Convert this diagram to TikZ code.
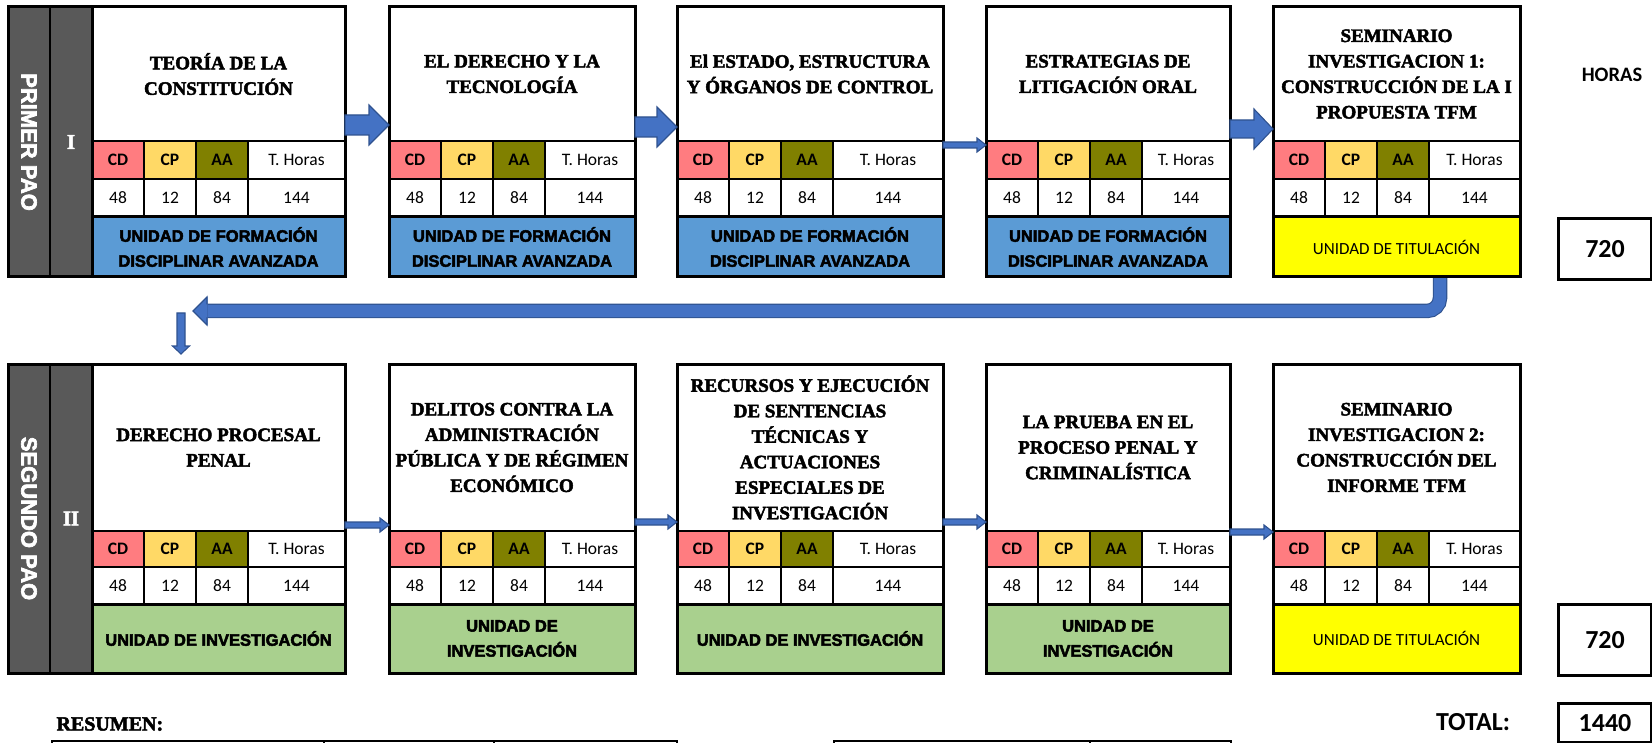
\documentclass[tikz,border=0pt]{standalone}
\usepackage{fontspec}
\setmainfont{Liberation Serif}
\newfontfamily\titlef{Liberation Serif}[BoldFeatures={FakeBold=2.5}]
\newfontfamily\calib{Carlito}
\newfontfamily\arialf{Liberation Sans}
\newfontfamily\blackf{Liberation Sans}[BoldFeatures={FakeBold=3}]
\usetikzlibrary{calc}
\definecolor{cdred}{HTML}{FF7C80}
\definecolor{cpyel}{HTML}{FFD966}
\definecolor{aaolive}{HTML}{808000}
\definecolor{unitblue}{HTML}{5B9BD5}
\definecolor{unitgreen}{HTML}{A9D08E}
\definecolor{unityel}{HTML}{FFFF00}
\definecolor{paogrey}{HTML}{595959}
\definecolor{arrowfill}{HTML}{4472C4}
\definecolor{arrowline}{HTML}{2F528F}

\tikzset{
  cellbase/.style={draw=black, line width=1.5pt, inner sep=0pt, outer sep=0pt, anchor=north west},
  titlebox/.style={cellbase, fill=white, align=center, font=\titlef\bfseries\fontsize{19}{25.5}\selectfont},
  hcell/.style={cellbase, font=\calib\bfseries\fontsize{17.5}{19}\selectfont},
  vcell/.style={cellbase, fill=white, font=\calib\fontsize{17.5}{19}\selectfont},
  blueunit/.style={cellbase, align=center, fill=unitblue, font=\blackf\bfseries\fontsize{16.5}{25}\selectfont},
  greenunit/.style={cellbase, align=center, fill=unitgreen, font=\blackf\bfseries\fontsize{16.5}{25}\selectfont},
  yelunit/.style={cellbase, align=center, fill=unityel, font=\calib\fontsize{17}{19}\selectfont},
  paobar/.style={draw=black, line width=2pt, fill=paogrey, text=white, inner sep=0pt, outer sep=0pt},
  paotext/.style={paobar, rotate=-90, font=\blackf\bfseries\fontsize{22}{24}\selectfont},
  romtext/.style={paobar, font=\titlef\bfseries\fontsize{21}{23}\selectfont},
  blockarrow/.style={fill=arrowfill, draw=arrowline, line width=1.1pt, line join=miter},
  totbox/.style={draw=black, line width=3pt, anchor=north west, inner sep=0pt, font=\calib\bfseries\fontsize{26}{28}\selectfont},
  restable/.style={draw=black, line width=2pt, anchor=north west, inner sep=0pt, minimum height=20pt},
}

% #1 name, #2 left, #3 right, #4 row, #5 title, #6 footer style, #7 footer text
\newcommand\course[7]{%
  \ifnum#4=1 \def\yT{7}\def\yH{141}\def\yM{179}\def\yF{217}\def\yB{277}%
  \else \def\yT{364}\def\yH{531}\def\yM{567}\def\yF{604}\def\yB{673}\fi
  \pgfmathsetmacro\wA{#3-#2}%
  \pgfmathsetmacro\wT{#3-#2-156}%
  \pgfmathsetmacro\hA{\yH-\yT}%
  \pgfmathsetmacro\hB{\yM-\yH}%
  \pgfmathsetmacro\hC{\yF-\yM}%
  \pgfmathsetmacro\hD{\yB-\yF}%
  \pgfmathsetmacro\xB{#2+52}%
  \pgfmathsetmacro\xC{#2+104}%
  \pgfmathsetmacro\xD{#2+156}%
  \node[titlebox, minimum width=\wA pt, minimum height=\hA pt] (#1t) at (#2,\yT) {#5};
  \node[hcell, fill=cdred, minimum width=52pt, minimum height=\hB pt] (#1cd) at (#2,\yH) {CD};
  \node[hcell, fill=cpyel, minimum width=52pt, minimum height=\hB pt] (#1cp) at (\xB,\yH) {CP};
  \node[hcell, fill=aaolive, minimum width=52pt, minimum height=\hB pt] (#1aa) at (\xC,\yH) {AA};
  \node[vcell, minimum width=\wT pt, minimum height=\hB pt] (#1th) at (\xD,\yH) {T. Horas};
  \node[vcell, minimum width=52pt, minimum height=\hC pt] (#1vcd) at (#2,\yM) {48};
  \node[vcell, minimum width=52pt, minimum height=\hC pt] (#1vcp) at (\xB,\yM) {12};
  \node[vcell, minimum width=52pt, minimum height=\hC pt] (#1vaa) at (\xC,\yM) {84};
  \node[vcell, minimum width=\wT pt, minimum height=\hC pt] (#1vth) at (\xD,\yM) {144};
  \node[#6, minimum width=\wA pt, minimum height=\hD pt] (#1f) at (#2,\yF) {#7};
  \draw[line width=3pt] (#1f.north west) -- (#1f.north east);
  \draw[line width=3pt] (#1t.north west) rectangle (#1f.south east);
}

% #1 from, #2 to, #3 body half, #4 head half, #5 head length
\newcommand\harrow[5]{%
  \path[blockarrow] let \p1=(#1), \p2=(#2) in
    (\x1,\y1+#3) -- (\x2-#5,\y1+#3) -- (\x2-#5,\y1+#4) -- (\x2,\y1)
    -- (\x2-#5,\y1-#4) -- (\x2-#5,\y1-#3) -- (\x1,\y1-#3) -- cycle;
}

\begin{document}
\begin{tikzpicture}[x=1pt,y=-1pt]
\useasboundingbox (0,0) rectangle (1652,743);

% long return arrow (under boxes)
\coordinate (ls) at (1440,268);
\coordinate (lh) at (207,311);
\coordinate (ltip) at (193,311);
\draw[line width=14.5pt, arrowline, rounded corners=13pt] (ls) |- (lh);
\draw[line width=12.3pt, arrowfill, rounded corners=13pt] (ls) |- ($(lh)+(1,0)$);
\fill[arrowfill] (207.5,297) -- (ltip) -- (207.5,325) -- cycle;
\draw[arrowline, line width=1.1pt, line join=miter] (207,304.5) -- (207,297) -- (ltip) -- (207,325) -- (207,317.5);

% PAO bars
\node[paotext, minimum width=270pt, minimum height=42pt] (p1a) at (29,142) {PRIMER PAO};
\node[romtext, minimum width=42pt, minimum height=270pt] (p1b) at (71,142) {I};
\node[paotext, minimum width=309pt, minimum height=42pt] (p2a) at (29,518.5) {SEGUNDO PAO};
\node[romtext, minimum width=42pt, minimum height=309pt] (p2b) at (71,518.5) {II};

% row 1
\course{b1}{92}{345}{1}{TEORÍA DE LA\\CONSTITUCIÓN}{blueunit}{UNIDAD DE FORMACIÓN\\DISCIPLINAR AVANZADA}
\course{b2}{389}{635}{1}{EL DERECHO Y LA\\TECNOLOGÍA}{blueunit}{UNIDAD DE FORMACIÓN\\DISCIPLINAR AVANZADA}
\course{b3}{677}{943}{1}{El ESTADO, ESTRUCTURA\\Y ÓRGANOS DE CONTROL}{blueunit}{UNIDAD DE FORMACIÓN\\DISCIPLINAR AVANZADA}
\course{b4}{986}{1230}{1}{ESTRATEGIAS DE\\LITIGACIÓN ORAL}{blueunit}{UNIDAD DE FORMACIÓN\\DISCIPLINAR AVANZADA}
\course{b5}{1273}{1520}{1}{SEMINARIO\\INVESTIGACION 1:\\CONSTRUCCIÓN DE LA I\\PROPUESTA TFM}{yelunit}{UNIDAD DE TITULACIÓN}

% row 2
\course{c1}{92}{345}{2}{DERECHO PROCESAL\\PENAL}{greenunit}{UNIDAD DE INVESTIGACIÓN}
\course{c2}{389}{635}{2}{DELITOS CONTRA LA\\ADMINISTRACIÓN\\PÚBLICA Y DE RÉGIMEN\\ECONÓMICO}{greenunit}{UNIDAD DE\\INVESTIGACIÓN}
\course{c3}{677}{943}{2}{RECURSOS Y EJECUCIÓN\\DE SENTENCIAS\\TÉCNICAS Y\\ACTUACIONES\\ESPECIALES DE\\INVESTIGACIÓN}{greenunit}{UNIDAD DE INVESTIGACIÓN}
\course{c4}{986}{1230}{2}{LA PRUEBA EN EL\\PROCESO PENAL Y\\CRIMINALÍSTICA}{greenunit}{UNIDAD DE\\INVESTIGACIÓN}
\course{c5}{1273}{1520}{2}{SEMINARIO\\INVESTIGACION 2:\\CONSTRUCCIÓN DEL\\INFORME TFM}{yelunit}{UNIDAD DE TITULACIÓN}

% outer borders including the PAO bars
\draw[line width=3pt] (p1a.south west) rectangle (b1f.south east);
\draw[line width=3pt] (p2a.south west) rectangle (c1f.south east);

% row 1 arrows
\harrow{$(b1t.south east)+(0,-16)$}{b2t.south west}{10pt}{20pt}{20pt}
\harrow{$(b2t.south east)+(0,-14)$}{b3t.south west}{10pt}{20pt}{20pt}
\harrow{$(b3t.south east)+(0,4)$}{b4t.south west}{3pt}{7pt}{9pt}
\harrow{$(b4t.south east)+(0,-12)$}{b5t.south west}{9pt}{20pt}{19pt}

% row 2 arrows
\harrow{$(c1t.south east)+(0,-6)$}{c2t.south west}{3pt}{7pt}{9pt}
\harrow{$(c2t.south east)+(0,-9)$}{c3t.south west}{3pt}{7pt}{9pt}
\harrow{$(c3t.south east)+(0,-9)$}{c4t.south west}{3pt}{7pt}{9pt}
\harrow{$(c4t.south east)+(0,1)$}{c5t.south west}{3pt}{7pt}{9pt}

% small down arrow
\coordinate (dt) at ($(c1t.north west)+(89,-10)$);
\path[blockarrow] let \p1=(dt) in
  (\x1-4pt,\y1+41pt) -- (\x1-4pt,\y1+8pt) -- (\x1-8.5pt,\y1+8pt) -- (\x1,\y1)
  -- (\x1+8.5pt,\y1+8pt) -- (\x1+4pt,\y1+8pt) -- (\x1+4pt,\y1+41pt) -- cycle;

% hours
\node[font=\calib\bfseries\fontsize{20.5}{22}\selectfont] (horas) at (1612,75) {HORAS};
\node[totbox, minimum width=93pt, minimum height=61pt] (h1) at (1557,217) {720};
\node[totbox, minimum width=93pt, minimum height=71pt] (h2) at (1557,603) {720};
\node[font=\calib\bfseries\fontsize{26}{28}\selectfont] (totl) at (1473,722) {TOTAL:};
\node[totbox, minimum width=93pt, minimum height=39pt] (tot) at (1557,702) {1440};

% resumen
\node[font=\titlef\bfseries\fontsize{20}{23}\selectfont, anchor=west] (res) at (53,724) {RESUMEN:};
\node[restable, minimum width=272pt] (r1a) at (51,740) {};
\node[restable, minimum width=170pt] (r1b) at (323,740) {};
\node[restable, minimum width=183pt] (r1c) at (493,740) {};
\node[restable, minimum width=256pt] (r2a) at (833,740) {};
\node[restable, minimum width=141pt] (r2b) at (1089,740) {};
\end{tikzpicture}
\end{document}
